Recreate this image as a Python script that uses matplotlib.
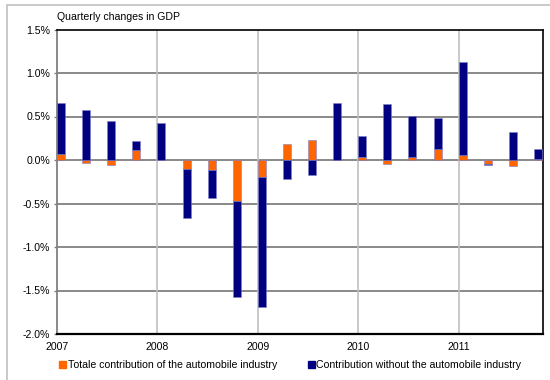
import matplotlib
matplotlib.use("Agg")
import matplotlib.pyplot as plt
from matplotlib.patches import Rectangle
import numpy as np

plt.rcParams['font.family'] = ['Liberation Sans', 'DejaVu Sans']

# Quarterly data, 2007 Q1 - 2011 Q4 (percent)
quarters = ["2007Q1", "2007Q2", "2007Q3", "2007Q4",
            "2008Q1", "2008Q2", "2008Q3", "2008Q4",
            "2009Q1", "2009Q2", "2009Q3", "2009Q4",
            "2010Q1", "2010Q2", "2010Q3", "2010Q4",
            "2011Q1", "2011Q2", "2011Q3", "2011Q4"]
auto_industry = [0.07, -0.03, -0.06, 0.11,
                 0.00, -0.10, -0.12, -0.47,
                 -0.20, 0.18, 0.23, 0.00,
                 0.03, -0.05, 0.03, 0.13,
                 0.06, -0.05, -0.07, 0.01]
without_auto = [0.59, 0.58, 0.45, 0.11,
                0.42, -0.57, -0.32, -1.11,
                -1.49, -0.22, -0.17, 0.66,
                0.25, 0.64, 0.48, 0.35,
                1.07, -0.01, 0.32, 0.12]
year_labels = ["2007", "2008", "2009", "2010", "2011"]

orange = "#FF6600"
navy = "#000080"
fs = 7.6

fig = plt.figure(figsize=(5.5, 3.8), dpi=100)
ax = fig.add_axes([57 / 550, 1 - 334 / 380, (543 - 57) / 550, (334 - 29.5) / 380])

# Outer frame of the chart
fig.patches.append(Rectangle((7 / 550, -0.1), 1.2, (380 - 5) / 380 + 0.1,
                             transform=fig.transFigure, fill=False,
                             edgecolor="#c0c0c0", linewidth=1.2))

a = np.array(auto_industry)
w = np.array(without_auto)
x = np.arange(len(quarters))

# Stack positives upward and negatives downward separately
pos_base = np.zeros_like(a)
neg_base = np.zeros_like(a)
bw = 0.32
edge = dict(edgecolor="#8080c8", linewidth=0.4)

a_bottom = np.where(a >= 0, pos_base, neg_base)
ax.bar(x, a, bw, bottom=a_bottom, align="edge", color=orange, zorder=3, **edge)
pos_base = pos_base + np.where(a > 0, a, 0)
neg_base = neg_base + np.where(a < 0, a, 0)
w_bottom = np.where(w >= 0, pos_base, neg_base)
ax.bar(x, w, bw, bottom=w_bottom, align="edge", color=navy, zorder=3, **edge)

ax.set_xlim(0, 19.36)
ax.set_ylim(-2.0, 1.5)
yt = np.arange(-2.0, 1.51, 0.5)
ax.set_yticks(yt)
ax.set_yticklabels([f"{v:.1f}%" for v in yt])
ax.set_xticks(np.arange(0, 20, 4))
ax.set_xticklabels(year_labels)

ax.tick_params(axis="y", length=2.5, width=1, color="#808080", labelsize=fs, pad=2.5)
ax.tick_params(axis="x", length=0, labelsize=fs, pad=6)

for v in yt[1:-1]:
    ax.axhline(v, color="#808080", linewidth=1.3, zorder=1)
for xv in [4, 8, 12, 16]:
    ax.axvline(xv, color="#c0c0c0", linewidth=1.2, zorder=1)

ax.spines["left"].set_color("#808080")
ax.spines["left"].set_linewidth(1.3)
ax.spines["bottom"].set_color("black")
ax.spines["bottom"].set_linewidth(1.6)
ax.spines["top"].set_color("black")
ax.spines["top"].set_linewidth(1.2)
ax.spines["right"].set_color("black")
ax.spines["right"].set_linewidth(1.2)

fig.text(57 / 550, 1 - 17 / 380, "Quarterly changes in GDP", fontsize=fs,
         ha="left", va="center")

# Legend
fig.patches.append(Rectangle((59 / 550, 1 - 368 / 380), 7 / 550, 7 / 380,
                             transform=fig.transFigure, color=orange))
fig.text(68 / 550, 1 - 364.5 / 380, "Totale contribution of the automobile industry",
         fontsize=fs, ha="left", va="center")
fig.patches.append(Rectangle((308 / 550, 1 - 368 / 380), 7 / 550, 7 / 380,
                             transform=fig.transFigure, color=navy))
fig.text(316 / 550, 1 - 364.5 / 380, "Contribution without the automobile industry",
         fontsize=fs, ha="left", va="center")

fig.savefig("out.png", dpi=100)
